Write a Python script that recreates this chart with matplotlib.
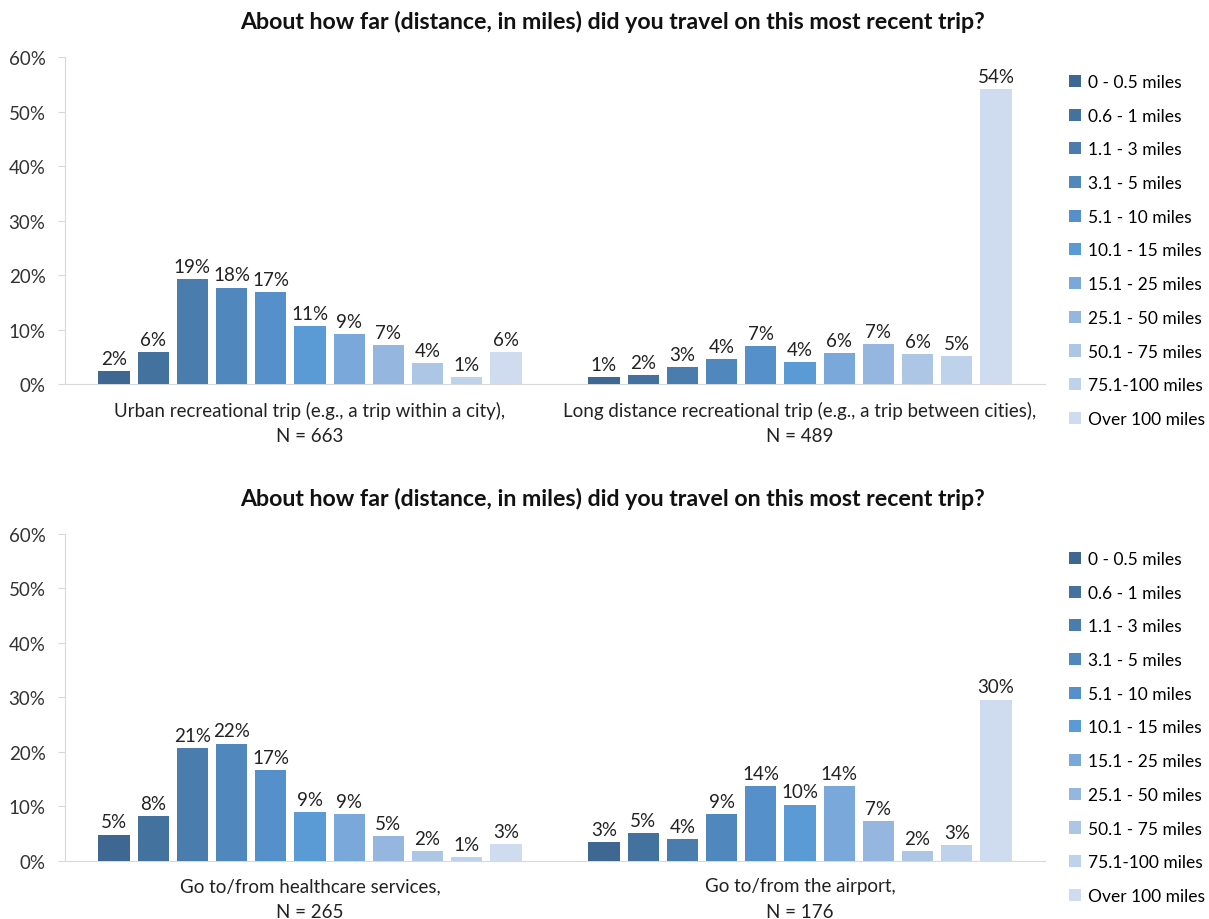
import matplotlib.pyplot as plt
import numpy as np

plt.rcParams["font.family"] = ["Lato", "DejaVu Sans"]

DISTANCES = [
    "0 - 0.5 miles", "0.6 - 1 miles", "1.1 - 3 miles", "3.1 - 5 miles",
    "5.1 - 10 miles", "10.1 - 15 miles", "15.1 - 25 miles", "25.1 - 50 miles",
    "50.1 - 75 miles", "75.1-100 miles", "Over 100 miles",
]
COLORS = [
    "#3E6892", "#43729F", "#4A7DAE", "#5087BD", "#5590CA", "#5B9BD5",
    "#7BA8DA", "#95B7DF", "#ADC6E6", "#BFD2EB", "#CFDCEF",
]

TITLE = "About how far (distance, in miles) did you travel on this most recent trip?"

top_categories = [
    "Urban recreational trip (e.g., a trip within a city),\nN = 663",
    "Long distance recreational trip (e.g., a trip between cities),\nN = 489",
]
urban_values = [2.4, 5.8, 19.2, 17.7, 16.9, 10.6, 9.1, 7.2, 3.9, 1.3, 5.8]
urban_labels = ["2%", "6%", "19%", "18%", "17%", "11%", "9%", "7%", "4%", "1%", "6%"]
long_values = [1.2, 1.6, 3.1, 4.5, 6.9, 4.1, 5.7, 7.3, 5.5, 5.2, 54.1]
long_labels = ["1%", "2%", "3%", "4%", "7%", "4%", "6%", "7%", "6%", "5%", "54%"]

bottom_categories = [
    "Go to/from healthcare services,\nN = 265",
    "Go to/from the airport,\nN = 176",
]
health_values = [4.8, 8.2, 20.7, 21.5, 16.6, 9.0, 8.6, 4.5, 1.8, 0.7, 3.0]
health_labels = ["5%", "8%", "21%", "22%", "17%", "9%", "9%", "5%", "2%", "1%", "3%"]
airport_values = [3.4, 5.1, 3.9, 8.5, 13.7, 10.3, 13.7, 7.3, 1.7, 2.8, 29.6]
airport_labels = ["3%", "5%", "4%", "9%", "14%", "10%", "14%", "7%", "2%", "3%", "30%"]

W, H = 1209, 920
FS = 13.5


def px_axes(fig, left, top, right, bottom):
    return fig.add_axes([left / W, 1 - bottom / H, (right - left) / W, (bottom - top) / H])


def draw_panel(fig, ax, categories, groups, group_labels, title_y, legend_y):
    step = 0.08
    width = 0.064
    n = len(DISTANCES)
    for k in range(n):
        xs = [c + (k - (n - 1) / 2) * step for c in range(len(categories))]
        heights = [groups[c][k] for c in range(len(categories))]
        ax.bar(xs, heights, width=width, color=COLORS[k], label=DISTANCES[k], zorder=3)
        for x, h, c in zip(xs, heights, range(len(categories))):
            ax.annotate(group_labels[c][k], (x, h), xytext=(0, 3), textcoords="offset points",
                        ha="center", va="bottom", fontsize=FS, color="#222222")
    ax.set_xlim(-0.5, 1.5)
    ax.set_ylim(0, 60)
    ax.set_yticks(range(0, 61, 10))
    ax.set_yticklabels([f"{v}%" for v in range(0, 61, 10)], fontsize=FS, color="#333333")
    ax.set_xticks(range(len(categories)))
    ax.set_xticklabels(categories, fontsize=FS, color="#222222", linespacing=1.6)
    ax.tick_params(axis="x", length=0, pad=12)
    ax.tick_params(axis="y", length=5, color="#d9d9d9", pad=9)
    for side in ["top", "right"]:
        ax.spines[side].set_visible(False)
    for side in ["left", "bottom"]:
        ax.spines[side].set_color("#d9d9d9")
    fig.text(612 / W, 1 - title_y / H, TITLE, ha="center", va="center",
             fontsize=16.7, fontweight="bold", color="#111111")
    ax.legend(loc="upper left", bbox_to_anchor=(1062 / W, 1 - legend_y / H),
              bbox_transform=fig.transFigure, frameon=False, fontsize=12.5,
              handlelength=0.7, handleheight=0.7, handletextpad=0.4,
              labelspacing=1.02, borderaxespad=0)


fig = plt.figure(figsize=(W / 100, H / 100), dpi=100)
ax_top = px_axes(fig, 65, 58.3, 1045, 385)
ax_bot = px_axes(fig, 65, 535, 1045, 861.7)

draw_panel(fig, ax_top, top_categories, [urban_values, long_values],
           [urban_labels, long_labels], 22, 68)
draw_panel(fig, ax_bot, bottom_categories, [health_values, airport_values],
           [health_labels, airport_labels], 499, 545)

fig.savefig("out.png", dpi=100)
